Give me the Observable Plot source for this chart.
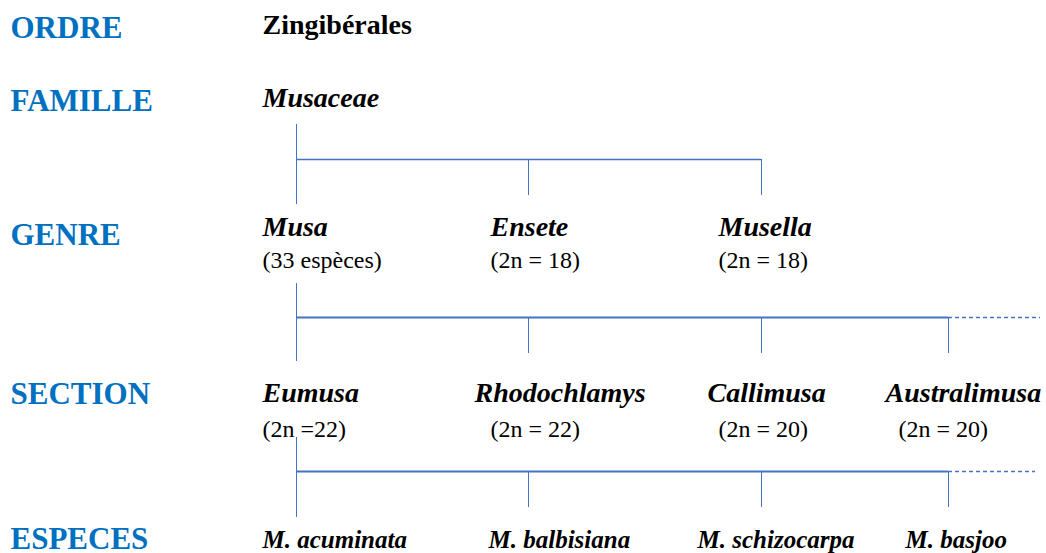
<!DOCTYPE html>
<html>
<head>
<meta charset="utf-8">
<script src="https://cdn.jsdelivr.net/npm/d3@7"></script>
<script src="https://cdn.jsdelivr.net/npm/@observablehq/plot@0.6"></script>
<style>
  html, body { margin: 0; padding: 0; background: #fff; }
  #chart svg { display: block; }
</style>
</head>
<body>
<div id="chart"></div>
<script>
// ---- content ----
const rankLabels   = ["ORDRE", "FAMILLE", "GENRE", "SECTION", "ESPECES"];
const ordre        = ["Zingibérales"];
const famille      = ["Musaceae"];
const genres       = ["Musa", "Ensete", "Musella"];
const genreNotes   = ["(33 espèces)", "(2n = 18)", "(2n = 18)"];
const sections     = ["Eumusa", "Rhodochlamys", "Callimusa", "Australimusa"];
const sectionNotes = ["(2n =22)", "(2n = 22)", "(2n = 20)", "(2n = 20)"];
const especes      = ["M. acuminata", "M. balbisiana", "M. schizocarpa", "M. basjoo"];

// ---- layout (positions in page units) ----
const rankX = 10;
const rankY = [37, 110, 244, 403, 548];
const ordreXY = [262, 33];
const familleXY = [262, 106];
const genreX = [262, 490, 718], genreY = 235, genreNoteX = [262, 490, 718], genreNoteY = 267;
const sectionX = [262, 474, 707, 885], sectionY = 401, sectionNoteX = [262, 490, 718, 898], sectionNoteY = 436;
const especeX = [262, 488, 697, 905], especeY = 547;
const branchX = [296, 528, 761, 948];
// each tree: stem top, bar y, stem bottom, child bottom, number of children, dashed end
const trees = [
  {top: 124, bar: 159, stemEnd: 204, childEnd: 195, n: 3, dashEnd: null},
  {top: 283, bar: 317, stemEnd: 361, childEnd: 353, n: 4, dashEnd: 1040},
  {top: 437, bar: 471, stemEnd: 517, childEnd: 507, n: 4, dashEnd: 1035}
];

const blue = "#0070C0";
const lineBlue = "#4472C4";
const serif = "'Liberation Serif', 'Times New Roman', serif";

const rankData = rankLabels.map((t, i) => ({t, x: rankX, y: rankY[i]}));
const genreData = genres.map((t, i) => ({t, x: genreX[i], y: genreY}));
const genreNoteData = genreNotes.map((t, i) => ({t, x: genreNoteX[i], y: genreNoteY}));
const sectionData = sections.map((t, i) => ({t, x: sectionX[i], y: sectionY}));
const sectionNoteData = sectionNotes.map((t, i) => ({t, x: sectionNoteX[i], y: sectionNoteY}));
const especeData = especes.map((t, i) => ({t, x: especeX[i], y: especeY}));

const stems = trees.map(d => ({x: branchX[0], y1: d.top, y2: d.stemEnd}));
const children = trees.flatMap(d => branchX.slice(1, d.n).map(x => ({x, y1: d.bar, y2: d.childEnd})));
const bars = trees.map((d, i) => ({y: d.bar, x1: branchX[0], x2: branchX[d.n - 1], w: i === 0 ? 1.3 : 2}));
const dashes = trees.filter(d => d.dashEnd).map(d => ({y: d.bar, x1: branchX[d.n - 1], x2: d.dashEnd}));

const textOpts = (extra) => Object.assign({
  x: "x", y: "y", text: "t", textAnchor: "start", lineAnchor: "bottom",
  fontFamily: serif
}, extra);

const chart = Plot.plot({
  width: 1046,
  height: 553,
  margin: 0,
  x: {domain: [0, 1046], range: [0, 1046], axis: null},
  y: {domain: [0, 553], range: [0, 553], axis: null},
  style: {background: "#fff"},
  marks: [
    Plot.ruleX(stems, {x: "x", y1: "y1", y2: "y2", stroke: lineBlue, strokeWidth: 1}),
    Plot.ruleX(children, {x: "x", y1: "y1", y2: "y2", stroke: lineBlue, strokeWidth: 1}),
    Plot.ruleY(bars, {y: "y", x1: "x1", x2: "x2", stroke: lineBlue, strokeWidth: "w"}),
    Plot.ruleY(dashes, {y: "y", x1: "x1", x2: "x2", stroke: lineBlue, strokeWidth: 1.5, strokeDasharray: "4,3"}),
    Plot.text(rankData, textOpts({fill: blue, fontSize: 31, fontWeight: "bold"})),
    Plot.text(ordre.map(t => ({t, x: ordreXY[0], y: ordreXY[1]})), textOpts({fill: "#000", fontSize: 28, fontWeight: "bold"})),
    Plot.text(famille.map(t => ({t, x: familleXY[0], y: familleXY[1]})), textOpts({fill: "#000", fontSize: 28, fontWeight: "bold", fontStyle: "italic"})),
    Plot.text(genreData, textOpts({fill: "#000", fontSize: 28, fontWeight: "bold", fontStyle: "italic"})),
    Plot.text(genreNoteData, textOpts({fill: "#000", fontSize: 24})),
    Plot.text(sectionData, textOpts({fill: "#000", fontSize: 28, fontWeight: "bold", fontStyle: "italic"})),
    Plot.text(sectionNoteData, textOpts({fill: "#000", fontSize: 24})),
    Plot.text(especeData, textOpts({fill: "#000", fontSize: 25, fontWeight: "bold", fontStyle: "italic"}))
  ]
});
document.getElementById("chart").appendChild(chart);
</script>
</body>
</html>
